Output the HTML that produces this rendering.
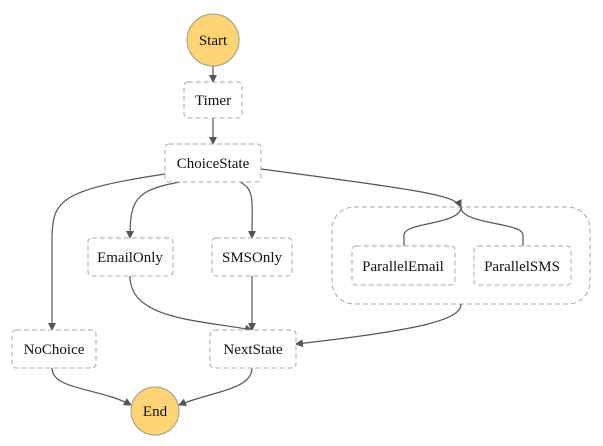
<!DOCTYPE html>
<html><head><style>body{margin:0;background:#fff}svg{display:block}text{font-family:"Liberation Serif","Times New Roman","Nimbus Roman","DejaVu Serif",serif;font-size:15px}</style></head><body>
<svg width="603" height="446" xmlns="http://www.w3.org/2000/svg">
<defs><marker id="a" markerWidth="8" markerHeight="8" refX="7" refY="4" orient="auto" markerUnits="userSpaceOnUse"><path d="M0,0 L8,4 L0,8 z" fill="#555"/></marker></defs>
<rect x="332" y="207" width="258" height="97" rx="22" fill="#fff" stroke="#aaa" stroke-dasharray="5,3"/>
<g fill="none" stroke="#555" stroke-width="1.2">
<path d="M213,66 L213,82" marker-end="url(#a)"/>
<path d="M213,118 L213,144" marker-end="url(#a)"/>
<path d="M165,174 C60,190 52,200 52,240 L52,330" marker-end="url(#a)"/>
<path d="M180,182 C135,190 130,200 130,238" marker-end="url(#a)"/>
<path d="M240,182 C255,190 252,200 252,238" marker-end="url(#a)"/>
<path d="M261,169 C420,190 455,195 461,207" marker-end="url(#a)"/>
<path d="M461,207 C461,225 404,222 404,235 L404,246"/>
<path d="M461,207 C461,225 523,222 523,235 L523,246"/>
<path d="M130,276 C130,320 200,320 252,330" marker-end="url(#a)"/>
<path d="M252,276 L252,330" marker-end="url(#a)"/>
<path d="M461,304 C461,320 420,330 296,344" marker-end="url(#a)"/>
<path d="M52,368 C52,390 100,388 131,405" marker-end="url(#a)"/>
<path d="M252,368 C252,390 210,392 179,405" marker-end="url(#a)"/>
</g>
<g fill="#fff" stroke="#aaa" stroke-dasharray="5,3">
<rect x="184" y="82" width="58" height="36" rx="4"/>
<rect x="165" y="144" width="96" height="38" rx="4"/>
<rect x="88" y="238" width="85" height="38" rx="4"/>
<rect x="212" y="238" width="80" height="38" rx="4"/>
<rect x="352" y="246" width="103" height="39" rx="4"/>
<rect x="474" y="246" width="97" height="39" rx="4"/>
<rect x="12" y="330" width="84" height="38" rx="4"/>
<rect x="210" y="330" width="86" height="38" rx="4"/>
</g>
<circle cx="213" cy="40" r="26" fill="#ffd573" stroke="#999"/>
<circle cx="155" cy="411" r="24" fill="#ffd573" stroke="#999"/>
<g text-anchor="middle" fill="#111" style="font-family:'Liberation Serif','Times New Roman','Nimbus Roman','DejaVu Serif',serif">
<text x="213" y="45">Start</text>
<text x="213" y="105">Timer</text>
<text x="213" y="168">ChoiceState</text>
<text x="130" y="262">EmailOnly</text>
<text x="252" y="262">SMSOnly</text>
<text x="403" y="271">ParallelEmail</text>
<text x="522" y="271">ParallelSMS</text>
<text x="54" y="354">NoChoice</text>
<text x="253" y="354">NextState</text>
<text x="155" y="416">End</text>
</g>
</svg>
</body></html>
